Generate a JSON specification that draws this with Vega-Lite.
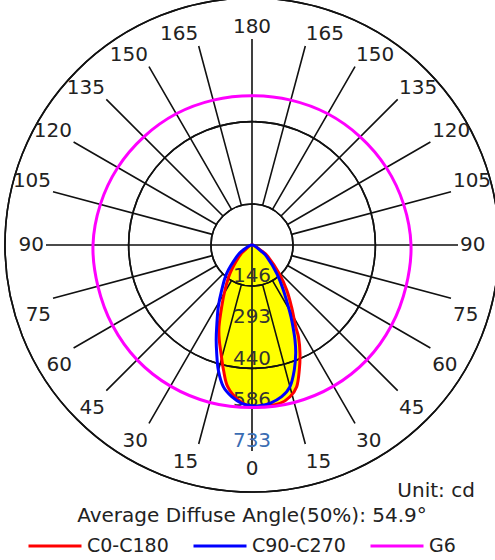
{
  "$schema": "https://vega.github.io/schema/vega-lite/v6.json",
  "usermeta": {"embedOptions": {"actions": false}},
  "width": 412,
  "height": 412,
  "autosize": {"type": "none"},
  "padding": {"left": 46, "top": 39, "right": 37, "bottom": 109},
  "background": "white",
  "config": {"font": "DejaVu Sans", "view": {"stroke": null}},
  "datasets": {
    "curves": [
      {"s": "C0-C180", "i": 0, "x": 0, "y": 0},
      {"s": "C0-C180", "i": 1, "x": -26.7, "y": -19.6},
      {"s": "C0-C180", "i": 2, "x": -46.3, "y": -41.6},
      {"s": "C0-C180", "i": 3, "x": -78.3, "y": -100.7},
      {"s": "C0-C180", "i": 4, "x": -96.1, "y": -160.1},
      {"s": "C0-C180", "i": 5, "x": -107.8, "y": -219.5},
      {"s": "C0-C180", "i": 6, "x": -117.4, "y": -290.7},
      {"s": "C0-C180", "i": 7, "x": -116.4, "y": -338.0},
      {"s": "C0-C180", "i": 8, "x": -110.3, "y": -385.4},
      {"s": "C0-C180", "i": 9, "x": -101.4, "y": -444.8},
      {"s": "C0-C180", "i": 10, "x": -86.5, "y": -504.2},
      {"s": "C0-C180", "i": 11, "x": -48.7, "y": -551.5},
      {"s": "C0-C180", "i": 12, "x": 0, "y": -576.4},
      {"s": "C0-C180", "i": 13, "x": 46.3, "y": -572.9},
      {"s": "C0-C180", "i": 14, "x": 99.6, "y": -563.3},
      {"s": "C0-C180", "i": 15, "x": 135.2, "y": -539.8},
      {"s": "C0-C180", "i": 16, "x": 159.0, "y": -504.2},
      {"s": "C0-C180", "i": 17, "x": 168.3, "y": -444.8},
      {"s": "C0-C180", "i": 18, "x": 170.8, "y": -385.4},
      {"s": "C0-C180", "i": 19, "x": 165.5, "y": -327.3},
      {"s": "C0-C180", "i": 20, "x": 155.5, "y": -290.7},
      {"s": "C0-C180", "i": 21, "x": 140.5, "y": -219.5},
      {"s": "C0-C180", "i": 22, "x": 123.5, "y": -160.1},
      {"s": "C0-C180", "i": 23, "x": 96.1, "y": -100.7},
      {"s": "C0-C180", "i": 24, "x": 56.9, "y": -41.6},
      {"s": "C0-C180", "i": 25, "x": 32.0, "y": -19.6},
      {"s": "C90-C270", "i": 0, "x": 0, "y": 0},
      {"s": "C90-C270", "i": 1, "x": -35.6, "y": -21.3},
      {"s": "C90-C270", "i": 2, "x": -54.4, "y": -41.6},
      {"s": "C90-C270", "i": 3, "x": -90.0, "y": -100.7},
      {"s": "C90-C270", "i": 4, "x": -107.8, "y": -160.1},
      {"s": "C90-C270", "i": 5, "x": -119.9, "y": -219.5},
      {"s": "C90-C270", "i": 6, "x": -125.6, "y": -290.7},
      {"s": "C90-C270", "i": 7, "x": -127.4, "y": -338.0},
      {"s": "C90-C270", "i": 8, "x": -125.6, "y": -385.4},
      {"s": "C90-C270", "i": 9, "x": -119.9, "y": -444.8},
      {"s": "C90-C270", "i": 10, "x": -102.1, "y": -504.2},
      {"s": "C90-C270", "i": 11, "x": -72.2, "y": -539.8},
      {"s": "C90-C270", "i": 12, "x": -36.6, "y": -563.3},
      {"s": "C90-C270", "i": 13, "x": 0, "y": -572.9},
      {"s": "C90-C270", "i": 14, "x": 32.0, "y": -571.1},
      {"s": "C90-C270", "i": 15, "x": 64.0, "y": -563.3},
      {"s": "C90-C270", "i": 16, "x": 105.6, "y": -539.8},
      {"s": "C90-C270", "i": 17, "x": 135.2, "y": -504.2},
      {"s": "C90-C270", "i": 18, "x": 150.5, "y": -444.8},
      {"s": "C90-C270", "i": 19, "x": 155.5, "y": -385.4},
      {"s": "C90-C270", "i": 20, "x": 153.0, "y": -338.0},
      {"s": "C90-C270", "i": 21, "x": 145.9, "y": -291.8},
      {"s": "C90-C270", "i": 22, "x": 138.8, "y": -256.2},
      {"s": "C90-C270", "i": 23, "x": 129.2, "y": -219.5},
      {"s": "C90-C270", "i": 24, "x": 111.4, "y": -160.1},
      {"s": "C90-C270", "i": 25, "x": 87.9, "y": -100.7},
      {"s": "C90-C270", "i": 26, "x": 52.3, "y": -41.6},
      {"s": "C90-C270", "i": 27, "x": 32.0, "y": -21.3},
      {"s": "G6", "i": 0, "x": 0, "y": -578.2},
      {"s": "G6", "i": 1, "x": 150.1, "y": -560.2},
      {"s": "G6", "i": 2, "x": 290.0, "y": -502.3},
      {"s": "G6", "i": 3, "x": 408.8, "y": -408.8},
      {"s": "G6", "i": 4, "x": 496.1, "y": -286.5},
      {"s": "G6", "i": 5, "x": 548.2, "y": -146.9},
      {"s": "G6", "i": 6, "x": 565.8, "y": 0},
      {"s": "G6", "i": 7, "x": 539.6, "y": 144.6},
      {"s": "G6", "i": 8, "x": 477.6, "y": 275.8},
      {"s": "G6", "i": 9, "x": 384.9, "y": 384.9},
      {"s": "G6", "i": 10, "x": 269.6, "y": 466.9},
      {"s": "G6", "i": 11, "x": 138.1, "y": 515.5},
      {"s": "G6", "i": 12, "x": 0, "y": 531.2},
      {"s": "G6", "i": 13, "x": -138.1, "y": 515.5},
      {"s": "G6", "i": 14, "x": -269.6, "y": 466.9},
      {"s": "G6", "i": 15, "x": -384.9, "y": 384.9},
      {"s": "G6", "i": 16, "x": -477.6, "y": 275.8},
      {"s": "G6", "i": 17, "x": -539.6, "y": 144.6},
      {"s": "G6", "i": 18, "x": -565.8, "y": 0},
      {"s": "G6", "i": 19, "x": -548.2, "y": -146.9},
      {"s": "G6", "i": 20, "x": -496.1, "y": -286.5},
      {"s": "G6", "i": 21, "x": -408.8, "y": -408.8},
      {"s": "G6", "i": 22, "x": -290.0, "y": -502.3},
      {"s": "G6", "i": 23, "x": -150.1, "y": -560.2}
    ],
    "rings": [{"v": 146}, {"v": 293}, {"v": 440}, {"v": 586}, {"v": 733}],
    "dirs": [
      {"dir": 0, "t": "180"}, {"dir": 15, "t": "165"}, {"dir": 30, "t": "150"},
      {"dir": 45, "t": "135"}, {"dir": 60, "t": "120"}, {"dir": 75, "t": "105"},
      {"dir": 90, "t": "90"}, {"dir": 105, "t": "75"}, {"dir": 120, "t": "60"},
      {"dir": 135, "t": "45"}, {"dir": 150, "t": "30"}, {"dir": 165, "t": "15"},
      {"dir": 180, "t": "0"}, {"dir": 195, "t": "15"}, {"dir": 210, "t": "30"},
      {"dir": 225, "t": "45"}, {"dir": 240, "t": "60"}, {"dir": 255, "t": "75"},
      {"dir": 270, "t": "90"}, {"dir": 285, "t": "105"}, {"dir": 300, "t": "120"},
      {"dir": 315, "t": "135"}, {"dir": 330, "t": "150"}, {"dir": 345, "t": "165"}
    ]
  },
  "layer": [
    {
      "data": {"name": "curves"},
      "transform": [{"filter": "datum.s === 'C0-C180'"}],
      "mark": {"type": "line", "interpolate": "cardinal-closed", "fill": "#ffff00", "stroke": "#ffff00", "strokeWidth": 1},
      "encoding": {
        "x": {"field": "x", "type": "quantitative", "scale": {"domain": [-733, 733], "nice": false, "zero": false}, "axis": null},
        "y": {"field": "y", "type": "quantitative", "scale": {"domain": [-733, 733], "nice": false, "zero": false}, "axis": null},
        "order": {"field": "i", "type": "quantitative"}
      }
    },
    {
      "data": {"name": "rings"},
      "mark": {"type": "arc", "filled": false, "fill": null, "stroke": "#111", "strokeWidth": 1.6},
      "encoding": {
        "theta": {"datum": 0, "type": "quantitative", "scale": {"domain": [0, 360], "range": [0, 6.283185307179586]}},
        "theta2": {"datum": 360},
        "radius": {"field": "v", "type": "quantitative", "scale": {"type": "linear", "domain": [0, 733], "range": [0, 206], "zero": true}}
      }
    },
    {
      "data": {"name": "dirs"},
      "transform": [{"filter": "datum.dir % 90 !== 0"}],
      "mark": {"type": "arc", "filled": false, "fill": null, "stroke": "#111", "strokeWidth": 1.6},
      "encoding": {
        "theta": {"field": "dir", "type": "quantitative", "stack": null, "scale": {"domain": [0, 360], "range": [0, 6.283185307179586]}},
        "theta2": {"field": "dir"},
        "radius": {"datum": 733, "type": "quantitative", "scale": {"type": "linear", "domain": [0, 733], "range": [0, 206], "zero": true}},
        "radius2": {"datum": 146}
      }
    },
    {
      "data": {"name": "dirs"},
      "transform": [{"filter": "datum.dir % 90 === 0"}],
      "mark": {"type": "arc", "filled": false, "fill": null, "stroke": "#111", "strokeWidth": 1.6},
      "encoding": {
        "theta": {"field": "dir", "type": "quantitative", "stack": null, "scale": {"domain": [0, 360], "range": [0, 6.283185307179586]}},
        "theta2": {"field": "dir"},
        "radius": {"datum": 733, "type": "quantitative", "scale": {"type": "linear", "domain": [0, 733], "range": [0, 206], "zero": true}},
        "radius2": {"datum": 0}
      }
    },
    {
      "data": {"name": "dirs"},
      "mark": {
        "type": "text", "fontSize": 20, "color": "#222",
        "align": {"expr": "datum.dir === 0 || datum.dir === 180 ? 'center' : (datum.dir < 180 ? 'left' : 'right')"},
        "baseline": {"expr": "datum.dir === 90 || datum.dir === 270 ? 'middle' : ((datum.dir < 90 || datum.dir > 270) ? 'bottom' : 'top')"},
        "dy": {"expr": "(datum.dir > 90 && datum.dir < 270) ? 6 : 0"}
      },
      "encoding": {
        "theta": {"field": "dir", "type": "quantitative", "stack": null, "scale": {"domain": [0, 360], "range": [0, 6.283185307179586]}},
        "radius": {"value": 208},
        "text": {"field": "t"}
      }
    },
    {
      "data": {"name": "rings"},
      "mark": {"type": "text", "fontSize": 20, "baseline": "alphabetic", "align": "center", "dy": -4},
      "encoding": {
        "theta": {"datum": 180, "type": "quantitative", "scale": {"domain": [0, 360], "range": [0, 6.283185307179586]}},
        "radius": {"field": "v", "type": "quantitative", "scale": {"type": "linear", "domain": [0, 733], "range": [0, 206], "zero": true}},
        "text": {"field": "v"},
        "color": {"condition": {"test": "datum.v === 733", "value": "#3a6db3"}, "value": "#333333"}
      }
    },
    {
      "data": {"name": "curves"},
      "mark": {"type": "line", "interpolate": "cardinal-closed", "strokeWidth": 3},
      "encoding": {
        "x": {"field": "x", "type": "quantitative", "scale": {"domain": [-733, 733], "nice": false, "zero": false}, "axis": null},
        "y": {"field": "y", "type": "quantitative", "scale": {"domain": [-733, 733], "nice": false, "zero": false}, "axis": null},
        "order": {"field": "i", "type": "quantitative"},
        "color": {
          "field": "s", "type": "nominal",
          "scale": {"domain": ["C0-C180", "C90-C270", "G6"], "range": ["#ff0000", "#0000ff", "#ff00ff"]},
          "legend": {
            "orient": "none", "legendX": -19, "legendY": 479, "direction": "horizontal", "title": null,
            "symbolType": "stroke", "symbolSize": 2809, "symbolStrokeWidth": 3,
            "labelFontSize": 19, "labelOffset": 4, "columnPadding": 18, "labelColor": "#222", "labelLimit": 300
          }
        }
      }
    },
    {
      "data": {"values": [{"t": "Unit: cd"}]},
      "mark": {"type": "text", "fontSize": 20, "align": "right", "baseline": "middle", "color": "#222"},
      "encoding": {
        "x": {"datum": 793},
        "y": {"datum": -876},
        "text": {"field": "t"}
      }
    },
    {
      "data": {"values": [{"t": "Average Diffuse Angle(50%): 54.9°"}]},
      "mark": {"type": "text", "fontSize": 20, "align": "center", "baseline": "middle", "color": "#222"},
      "encoding": {
        "x": {"datum": 0},
        "y": {"datum": -963},
        "text": {"field": "t"}
      }
    }
  ]
}
